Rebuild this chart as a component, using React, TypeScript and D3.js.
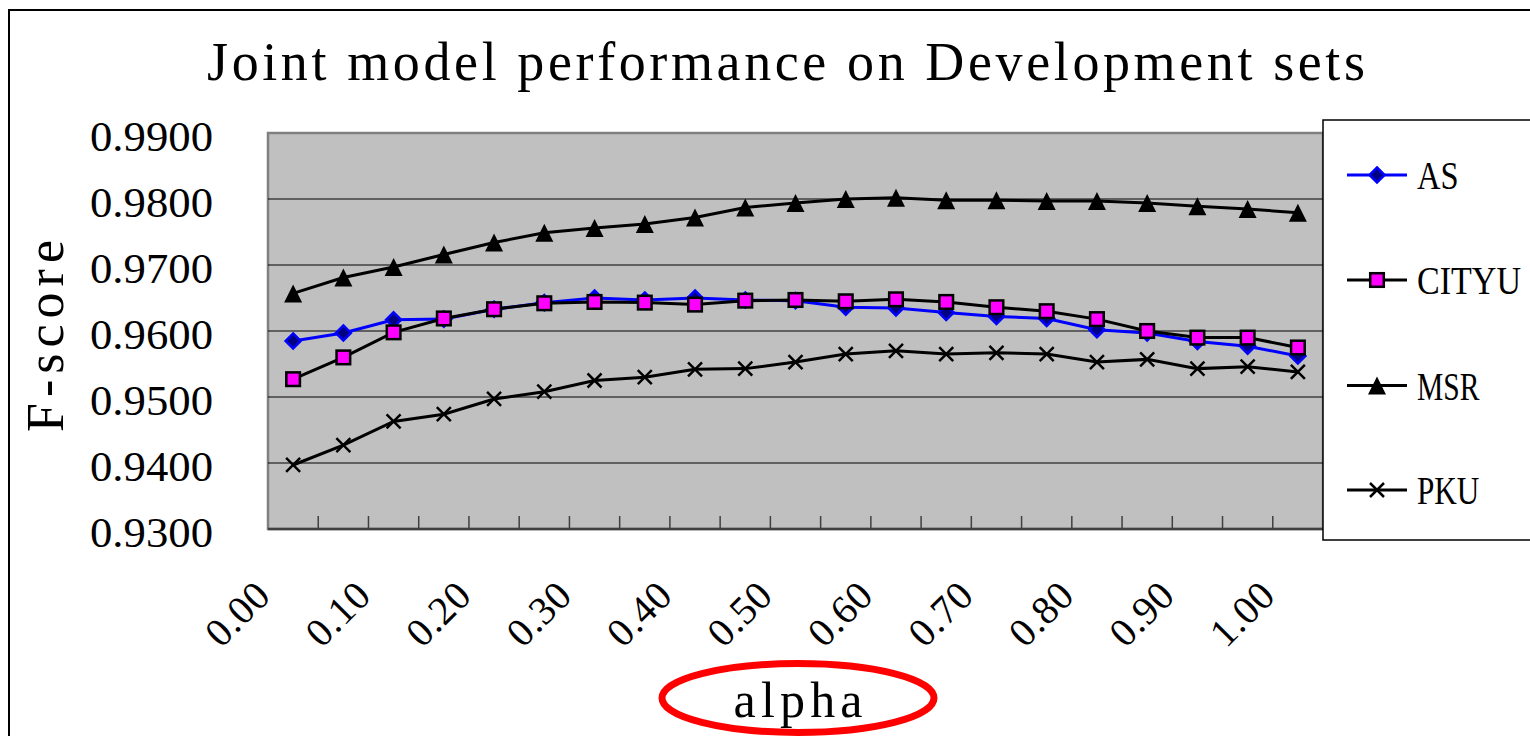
import * as d3 from 'd3';

// alpha values on the x axis (every 0.05)
const alphas = [0, 0.05, 0.1, 0.15, 0.2, 0.25, 0.3, 0.35, 0.4, 0.45, 0.5, 0.55, 0.6, 0.65, 0.7, 0.75, 0.8, 0.85, 0.9, 0.95, 1.0];

// F-scores
const asScores = [0.9585, 0.9597, 0.9617, 0.9618, 0.9633, 0.9643, 0.9650, 0.9647, 0.9650, 0.9647, 0.9646, 0.9636, 0.9635, 0.9628, 0.9622, 0.9619, 0.9602, 0.9597, 0.9584, 0.9577, 0.9562];
const cityuScores = [0.9527, 0.9560, 0.9598, 0.9619, 0.9633, 0.9642, 0.9644, 0.9643, 0.9640, 0.9646, 0.9647, 0.9645, 0.9648, 0.9644, 0.9636, 0.9630, 0.9618, 0.9600, 0.9590, 0.9590, 0.9575];
const msrScores = [0.9657, 0.9681, 0.9697, 0.9716, 0.9734, 0.9749, 0.9756, 0.9762, 0.9772, 0.9787, 0.9794, 0.9800, 0.9802, 0.9798, 0.9798, 0.9797, 0.9797, 0.9794, 0.9789, 0.9785, 0.9779];
const pkuScores = [0.9397, 0.9427, 0.9463, 0.9474, 0.9497, 0.9508, 0.9525, 0.9530, 0.9542, 0.9543, 0.9553, 0.9565, 0.9570, 0.9565, 0.9567, 0.9565, 0.9553, 0.9557, 0.9543, 0.9546, 0.9538];

const yTicks = [0.93, 0.94, 0.95, 0.96, 0.97, 0.98, 0.99];
const seriesNames = ['AS', 'CITYU', 'MSR', 'PKU'];

const FONT = '"Liberation Serif", "DejaVu Serif", serif';

type Marker = 'diamond' | 'square' | 'triangle' | 'cross';

function MarkerShape({ kind, x, y }: { kind: Marker; x: number; y: number }) {
  if (kind === 'diamond') {
    const r = 7.5;
    return <path d={`M${x},${y - r}L${x + r},${y}L${x},${y + r}L${x - r},${y}Z`} fill="#000080" stroke="#0000ff" strokeWidth={2.5} />;
  }
  if (kind === 'square') {
    const s = 6.8;
    return <rect x={x - s} y={y - s} width={s * 2} height={s * 2} fill="#ff00ff" stroke="#000" strokeWidth={2.5} />;
  }
  if (kind === 'triangle') {
    const h = 9;
    return <path d={`M${x},${y - h}L${x + h},${y + h}L${x - h},${y + h}Z`} fill="#000" />;
  }
  const c = 7;
  return <path d={`M${x - c},${y - c}L${x + c},${y + c}M${x - c},${y + c}L${x + c},${y - c}`} stroke="#000" strokeWidth={2.5} fill="none" />;
}

export default function App() {
  const width = 1530;
  const height = 736;

  // plot area box
  const plot = { left: 268, right: 1323, top: 133, bottom: 529 };

  const xScale = d3.scaleBand<number>()
    .domain(alphas.map((_, i) => i))
    .range([plot.left, plot.right])
    .paddingInner(0)
    .paddingOuter(0);
  const bw = xScale.bandwidth();
  const cx = (i: number) => (xScale(i) as number) + bw / 2;

  const yScale = d3.scaleLinear().domain([0.93, 0.99]).range([plot.bottom, plot.top]);

  const series: { name: string; values: number[]; color: string; marker: Marker }[] = [
    { name: seriesNames[0], values: asScores, color: '#0000ff', marker: 'diamond' },
    { name: seriesNames[1], values: cityuScores, color: '#000', marker: 'square' },
    { name: seriesNames[2], values: msrScores, color: '#000', marker: 'triangle' },
    { name: seriesNames[3], values: pkuScores, color: '#000', marker: 'cross' },
  ];

  const line = d3.line<number>()
    .x((_, i) => cx(i))
    .y(d => yScale(d));

  const fmtY = d3.format('.4f');
  const fmtX = d3.format('.2f');

  // legend layout
  const legend = { x: 1323, y: 120, w: 230, h: 420 };
  const legendRows = [175, 280, 385.5, 490];

  return (
    <svg width={width} height={height} style={{ position: 'absolute', left: 0, top: 0 }}>
      <rect x={0} y={0} width={width} height={height} fill="#fff" />
      {/* outer chart border */}
      <rect x={9} y={10} width={1600} height={800} fill="none" stroke="#000" strokeWidth={2} />

      {/* title */}
      <text x={207} y={80} fontFamily={FONT} fontSize={54} textLength={1158} lengthAdjust="spacing">
        Joint model performance on Development sets
      </text>

      {/* plot area */}
      <rect x={plot.left} y={plot.top} width={plot.right - plot.left} height={plot.bottom - plot.top}
        fill="#c0c0c0" stroke="#808080" strokeWidth={2.5} />

      {/* gridlines */}
      {yTicks.slice(1, -1).map(t => (
        <line key={t} x1={plot.left} x2={plot.right} y1={yScale(t)} y2={yScale(t)} stroke="#000" strokeWidth={1.2} />
      ))}

      {/* x axis line and ticks */}
      <line x1={plot.left} x2={plot.right} y1={plot.bottom} y2={plot.bottom} stroke="#404040" strokeWidth={2.5} />
      {alphas.slice(1).map((_, k) => {
        const x = xScale(k + 1) as number;
        return <line key={k} x1={x} x2={x} y1={plot.bottom} y2={plot.bottom - 13} stroke="#404040" strokeWidth={1.5} />;
      })}

      {/* y tick labels */}
      {yTicks.map(t => (
        <text key={t} x={213} y={yScale(t) + 18} textAnchor="end" fontFamily={FONT} fontSize={42}
          textLength={123} lengthAdjust="spacingAndGlyphs">
          {fmtY(t)}
        </text>
      ))}

      {/* x tick labels, every 0.10 */}
      {alphas.map((a, i) => i % 2 === 0 && (
        <text key={i} transform={`translate(${cx(i) - 21},${598}) rotate(-45)`} textAnchor="end"
          fontFamily={FONT} fontSize={40} textLength={72} lengthAdjust="spacing">
          {fmtX(a)}
        </text>
      ))}

      {/* axis titles */}
      <text transform="translate(63,336) rotate(-90)" textAnchor="middle" fontFamily={FONT} fontSize={52}
        textLength={192} lengthAdjust="spacing">
        F-score
      </text>
      <text x={798} y={717} textAnchor="middle" fontFamily={FONT} fontSize={50} textLength={129} lengthAdjust="spacing">
        alpha
      </text>
      <ellipse cx={798} cy={698} rx={136} ry={34.5} fill="none" stroke="#ff0000" strokeWidth={7} />

      {/* series */}
      {series.map(s => (
        <g key={s.name}>
          <path d={line(s.values) || ''} fill="none" stroke={s.color} strokeWidth={3} />
          {s.values.map((v, i) => <MarkerShape key={i} kind={s.marker} x={cx(i)} y={yScale(v)} />)}
        </g>
      ))}

      {/* legend */}
      <rect x={legend.x} y={legend.y} width={legend.w} height={legend.h} fill="#fff" stroke="#000" strokeWidth={1.5} />
      {series.map((s, i) => (
        <g key={s.name}>
          <line x1={1347} x2={1407} y1={legendRows[i]} y2={legendRows[i]} stroke={s.color} strokeWidth={3} />
          <MarkerShape kind={s.marker} x={1377} y={legendRows[i]} />
          <text x={1417} y={legendRows[i] + 14} fontFamily={FONT} fontSize={41}
            textLength={s.name.length * 20.8} lengthAdjust="spacingAndGlyphs">
            {s.name}
          </text>
        </g>
      ))}
    </svg>
  );
}
